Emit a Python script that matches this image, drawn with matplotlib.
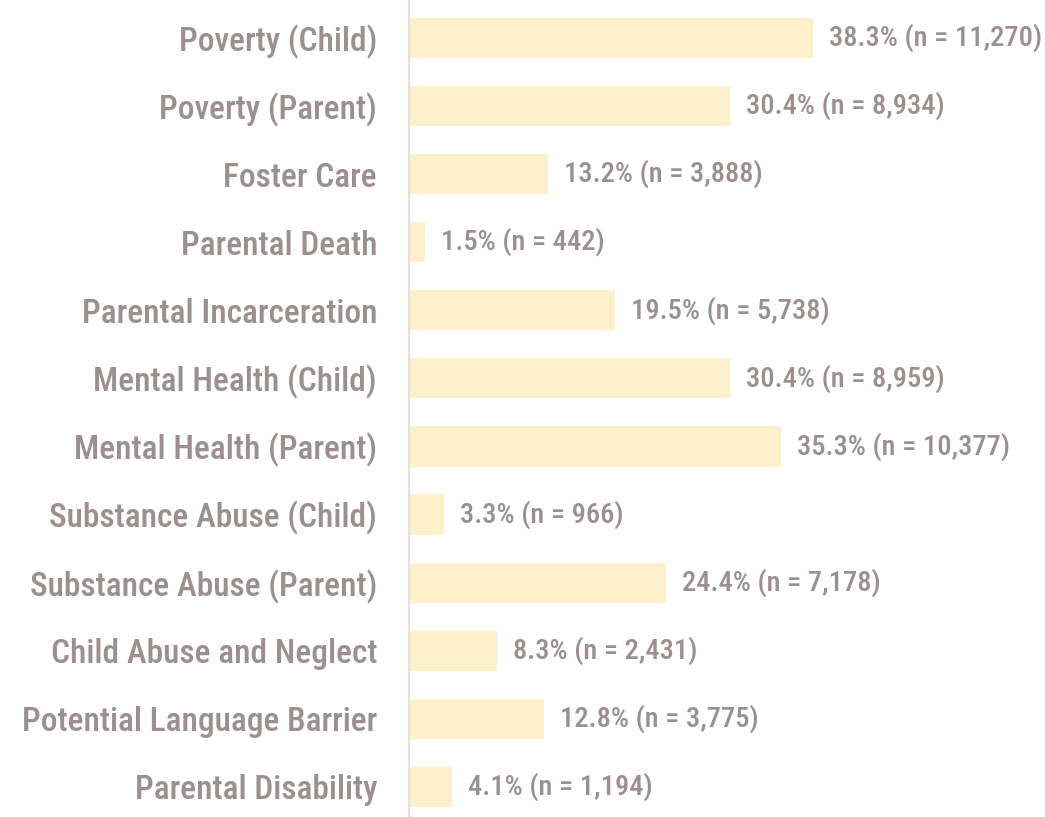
import matplotlib
matplotlib.use("Agg")
import matplotlib.pyplot as plt
from matplotlib import font_manager

categories = ["Poverty (Child)", "Poverty (Parent)", "Foster Care", "Parental Death",
              "Parental Incarceration", "Mental Health (Child)", "Mental Health (Parent)",
              "Substance Abuse (Child)", "Substance Abuse (Parent)", "Child Abuse and Neglect",
              "Potential Language Barrier", "Parental Disability"]
percents = [38.3, 30.4, 13.2, 1.5, 19.5, 30.4, 35.3, 3.3, 24.4, 8.3, 12.8, 4.1]
counts = ["11,270", "8,934", "3,888", "442", "5,738", "8,959", "10,377", "966",
          "7,178", "2,431", "3,775", "1,194"]

names = {f.name for f in font_manager.fontManager.ttflist}
fam = "DejaVu Sans"
for cand in ["Roboto Condensed", "Archivo Narrow", "PT Sans Narrow", "Fira Sans Condensed"]:
    if cand in names:
        fam = cand
        break

text_color = "#9d8f8f"
bar_color = "#fff0cc"

fig = plt.figure(figsize=(10.45, 8.17), dpi=100)
ax = fig.add_axes([409/1045, 0.0, 1 - 409/1045, 1.0])

y = list(range(len(categories)))
ax.barh(y, percents, height=0.59, color=bar_color)
ax.set_xlim(0, 60.3)
ax.set_ylim(11.442, -0.558)

for yi, p, c in zip(y, percents, counts):
    ax.annotate(f"{p}% (n = {c})", (p, yi), xytext=(16, 0), textcoords="offset pixels",
                va="center", ha="left", fontsize=20.5, color=text_color,
                family=fam, fontweight="medium")

ax.set_yticks(y)
ax.set_yticklabels(categories, family=fam, fontweight="medium", fontsize=24, color=text_color)
ax.tick_params(axis="y", length=0, pad=23)
ax.set_xticks([])
for s in ["top", "right", "bottom"]:
    ax.spines[s].set_visible(False)
ax.spines["left"].set_color("#e3e0e0")
ax.spines["left"].set_linewidth(1.5)

fig.savefig("out.png", dpi=100)
